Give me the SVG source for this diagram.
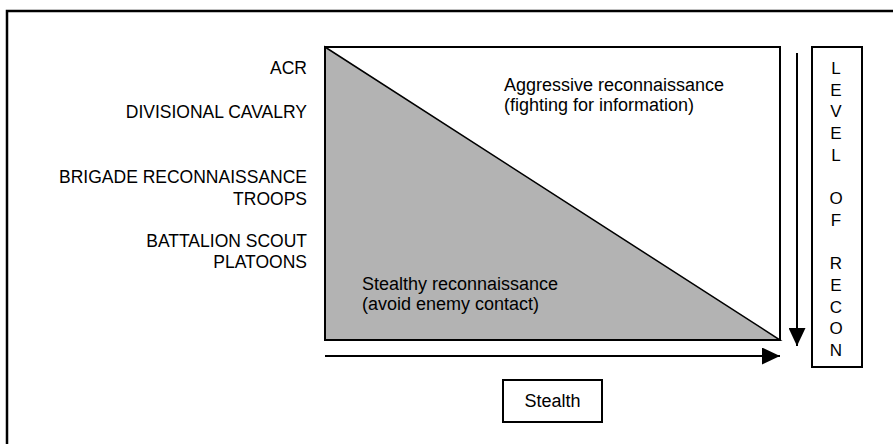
<svg xmlns="http://www.w3.org/2000/svg" width="893" height="444" viewBox="0 0 893 444">
<style>
text{font-family:"Liberation Sans",Arial,sans-serif;fill:#000}
.lbl{font-size:17.5px;text-anchor:end}
.txt{font-size:18px}
.vl{font-size:17px;text-anchor:middle}
.ln{fill:none;stroke:#000;stroke-width:2}
</style>
<defs>
<marker id="ah" viewBox="0 0 18 17" refX="18" refY="8.5" markerWidth="18" markerHeight="17" markerUnits="userSpaceOnUse" orient="auto">
<path d="M0,0 L18,8.5 L0,17 Z" fill="#000"/>
</marker>
</defs>
<rect x="0" y="0" width="893" height="444" fill="#fff"/>
<rect id="frame" x="7" y="11" width="900" height="460" fill="none" stroke="#000" stroke-width="2.5"/>
<g id="chart">
<rect x="325" y="47" width="455" height="293" fill="#fff" stroke="#000" stroke-width="2"/>
<polygon points="325,47 780,340 325,340" fill="#b3b3b3" stroke="#000" stroke-width="1.5"/>
<rect x="325" y="47" width="455" height="293" fill="none" stroke="#000" stroke-width="2"/>
<text class="txt" x="504" y="91">Aggressive reconnaissance</text>
<text class="txt" x="504" y="111">(fighting for information)</text>
<text class="txt" x="362" y="290">Stealthy reconnaissance</text>
<text class="txt" x="362" y="310">(avoid enemy contact)</text>
</g>
<g id="labels">
<text class="lbl" x="307" y="74">ACR</text>
<text class="lbl" x="307" y="118">DIVISIONAL CAVALRY</text>
<text class="lbl" x="307" y="183">BRIGADE RECONNAISSANCE</text>
<text class="lbl" x="307" y="205">TROOPS</text>
<text class="lbl" x="307" y="247">BATTALION SCOUT</text>
<text class="lbl" x="307" y="268">PLATOONS</text>
</g>
<g id="level-of-recon">
<rect x="812" y="47" width="50" height="320" fill="#fff" stroke="#000" stroke-width="2"/>
<text class="vl" x="836" y="74">L</text>
<text class="vl" x="836" y="95.7">E</text>
<text class="vl" x="836" y="117.4">V</text>
<text class="vl" x="836" y="139.1">E</text>
<text class="vl" x="836" y="160.8">L</text>
<text class="vl" x="836" y="204.2">O</text>
<text class="vl" x="836" y="225.9">F</text>
<text class="vl" x="836" y="269.3">R</text>
<text class="vl" x="836" y="291">E</text>
<text class="vl" x="836" y="312.7">C</text>
<text class="vl" x="836" y="334.4">O</text>
<text class="vl" x="836" y="356.1">N</text>
</g>
<g id="stealth">
<rect x="503" y="380" width="99" height="42" fill="#fff" stroke="#000" stroke-width="2"/>
<text class="txt" x="552.5" y="407" text-anchor="middle">Stealth</text>
</g>
<g id="connectors">
<line class="ln" x1="325" y1="356" x2="780" y2="356" marker-end="url(#ah)"/>
<line class="ln" x1="797" y1="53" x2="797" y2="346" marker-end="url(#ah)"/>
</g>
</svg>
